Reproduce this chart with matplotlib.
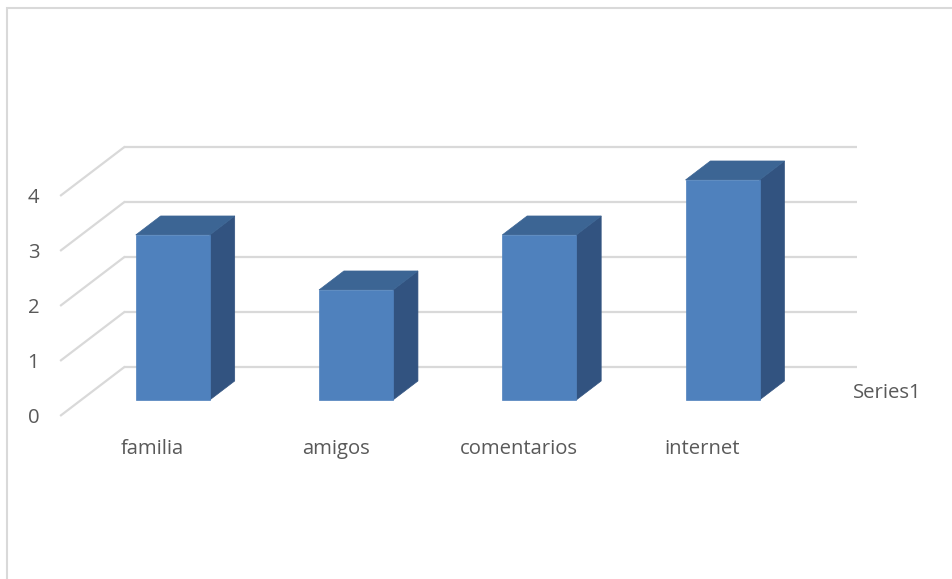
import matplotlib.pyplot as plt
from matplotlib.patches import Polygon, Rectangle

categories = ["familia", "amigos", "comentarios", "internet"]
values = [3, 2, 3, 4]
y_ticks = [0, 1, 2, 3, 4]
series_name = "Series1"

FRONT = "#4f81bd"
TOP = "#3c6594"
SIDE = "#325380"
GRID = "#d9d9d9"
TEXT = "#595959"
FS = 14.6

plt.rcParams["font.family"] = ["Open Sans", "DejaVu Sans"]

W, H = 952, 579
fig = plt.figure(figsize=(W / 100, H / 100), dpi=100)

# axes box is the back wall of the 3D chart
ax = fig.add_axes([124 / W, 211.7 / H, 733 / W, 220 / H])
ax.set_xlim(0, len(categories))
ax.set_ylim(0, 4)
ax.axis("off")

# oblique depth: d=0 back wall, d=1 front edge of the floor
kx = -63 / 183.25
ky = -48 / 55.0


def proj(x, v, d):
    return (x + d * kx, v + d * ky)


# back wall gridlines and left wall diagonals
for v in y_ticks:
    ax.plot([0, len(categories)], [v, v], color=GRID, lw=1.6, clip_on=False,
            solid_capstyle="butt", zorder=1)
    x0, y0 = proj(0, v, 0)
    x1, y1 = proj(0, v, 1)
    ax.plot([x0, x1], [y0, y1], color=GRID, lw=1.6, clip_on=False, zorder=1)
    tx, ty = proj(0, v, 1)
    ax.text(tx - 0.15, ty - 0.05, str(v), ha="center", va="center",
            fontsize=FS, color=TEXT, clip_on=False)

# 3D columns
bw = 0.404
d_front, d_back = 0.68, 0.285
for i, (cat, val) in enumerate(zip(categories, values)):
    xl = i + 0.5 - bw / 2
    xr = i + 0.5 + bw / 2
    front = [proj(xl, 0, d_front), proj(xr, 0, d_front),
             proj(xr, val, d_front), proj(xl, val, d_front)]
    top = [proj(xl, val, d_front), proj(xr, val, d_front),
           proj(xr, val, d_back), proj(xl, val, d_back)]
    side = [proj(xr, 0, d_front), proj(xr, 0, d_back),
            proj(xr, val, d_back), proj(xr, val, d_front)]
    for pts, col in [(side, SIDE), (top, TOP), (front, FRONT)]:
        ax.add_patch(Polygon(pts, closed=True, facecolor=col, edgecolor=col,
                             lw=0.5, clip_on=False, zorder=3))
    lx, ly = proj(i + 0.5, 0, 1)
    ax.text(lx, ly - 0.62, cat, ha="center", va="center", fontsize=FS,
            color=TEXT, clip_on=False)

# legend entry on the right
fig.text(853 / W, 1 - 393 / H, series_name, ha="left", va="center",
         fontsize=FS, color=TEXT)

# chart area border
fig.patches.append(Rectangle((7 / W, -0.1), 1.1, 1 - 8 / H + 0.1,
                             transform=fig.transFigure, facecolor="none",
                             edgecolor=GRID, lw=1.5))

fig.savefig("out.png", dpi=100)
